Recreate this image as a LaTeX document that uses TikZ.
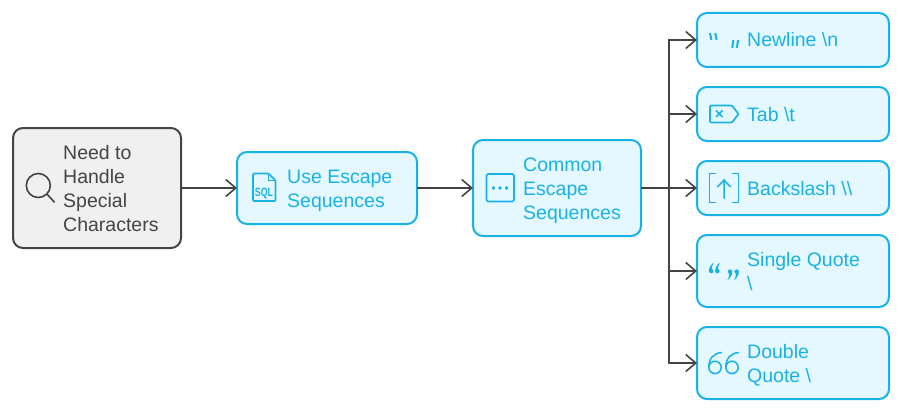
\documentclass[tikz,border=0pt]{standalone}
\usepackage{fontspec}
\setmainfont{Liberation Sans}
\usetikzlibrary{arrows.meta, positioning}
\definecolor{skyline}{HTML}{17B3E6}
\definecolor{skyfill}{HTML}{E5F8FF}
\definecolor{greyline}{HTML}{444444}
\definecolor{greyfill}{HTML}{F0F0F0}
\newcommand{\lblstrut}{\rule[-5pt]{0pt}{24pt}}
\tikzset{
	box/.style={draw=skyline, fill=skyfill, line width=2pt, rounded corners=10pt, outer sep=0pt, inner sep=0pt},
	leaf/.style={box, minimum width=192pt},
	lbl/.style={anchor=west, inner sep=0pt, align=left, text=skyline, font=\fontsize{19.5}{24}\selectfont, execute at begin node=\lblstrut, execute at end node=\lblstrut},
	lines/.style={lbl, yshift=-2.8pt},
	link/.style={draw=greyline, line width=1.6pt, -{Straight Barb[length=10pt, width=17pt, line width=1.6pt]}},
	icon/.style={draw=skyline, line width=1.7pt},
	fine/.style={draw=skyline, line width=1.5pt},
	curlyq/.pic={
		\fill[skyline, scale=.88] (-2.6,0) .. controls (-2.6,-4) and (0,-8) .. (3,-9.4) .. controls (1,-6) and (.6,-4.5) .. (.9,-2.6) .. controls (2,-2.4) and (2.6,-1) .. (2.6,0) arc (0:180:2.6);
	}
}
\begin{document}
\begin{tikzpicture}[x=1pt, y=-1pt]
	\useasboundingbox (0,0) rectangle (902,412);

	\node[box, draw=greyline, fill=greyfill, minimum width=168pt, minimum height=120pt] (root) at (97,188) {};
	\node[box, minimum width=180pt, minimum height=72pt, right=56pt of root] (use) {};
	\node[box, minimum width=168pt, minimum height=96pt, right=56pt of use] (common) {};
	\node[leaf, minimum height=54pt, right=56pt of common] (backslash) {};
	\node[leaf, minimum height=54pt, above=20pt of backslash] (tab) {};
	\node[leaf, minimum height=54pt, above=20pt of tab] (newline) {};
	\node[leaf, minimum height=72pt, below=20pt of backslash] (single) {};
	\node[leaf, minimum height=72pt, below=20pt of single] (double) {};

	\node[lines, text=greyline] (rootlbl) at ([xshift=50pt]root.west) {Need to\\Handle\\Special\\Characters};
	\node[lines] (uselbl) at ([xshift=50pt]use.west) {Use Escape\\Sequences};
	\node[lines] (commonlbl) at ([xshift=50pt]common.west) {Common\\Escape\\Sequences};
	\node[lbl] (newlinelbl) at ([xshift=50pt]newline.west) {Newline \textbackslash n};
	\node[lbl] (tablbl) at ([xshift=50pt]tab.west) {Tab \textbackslash t};
	\node[lbl] (backslashlbl) at ([xshift=50pt]backslash.west) {Backslash \textbackslash\textbackslash};
	\node[lines] (singlelbl) at ([xshift=50pt]single.west) {Single Quote\\\textbackslash};
	\node[lines] (doublelbl) at ([xshift=50pt]double.west) {Double\\Quote \textbackslash};

	\draw[link] (root) -- (use);
	\draw[link] (use) -- (common);
	\coordinate (fork) at ([xshift=28pt]common.east);
	\draw[link] (common) -- (backslash);
	\draw[link] (fork) |- (newline);
	\draw[link] (fork) |- (tab);
	\draw[link] (fork) |- (single);
	\draw[link] (fork) |- (double);

	% magnifier
	\draw[draw=greyline, line width=1.6pt] (38.3,185.5) circle (12pt) (46.7,193.8) -- (54.5,202.3);
	% sql file
	\draw[icon, line join=round, rounded corners=1pt] (268.5,173.5) -- (253,173.5) -- (253,201) -- (275.5,201) -- (275.5,180.5) -- cycle;
	\draw[icon, line width=1.2pt] (268.5,173.5) -- (268.5,180.5) -- (275.5,180.5);
	\node[inner sep=0pt, xscale=.74, text=skyline, font=\fontsize{12}{12}\selectfont\bfseries] (sqltxt) at (264,193) {SQL};
	% dots
	\draw[icon, rounded corners=1.5pt] (486.5,174) rectangle (514,201.5);
	\foreach \x in {493.5,500,506.5} \fill[skyline] (\x,188) circle (1.9pt);
	% newline marks
	\draw[icon, line width=2pt] (710,33) -- (711.4,39.8) (715.2,33) -- (716.6,39.8) (733.4,40) -- (732.2,47.8) (738.2,40) -- (736.8,47.8);
	% tag
	\draw[icon, line join=round, rounded corners=1pt] (710,105.5) -- (732,105.5) -- (738.5,114) -- (732,122.5) -- (710,122.5) -- cycle;
	\draw[fine] (716,110.5) -- (722.5,117) (722.5,110.5) -- (716,117);
	% bracket with arrow
	\draw[icon] (716,173.5) -- (709.5,173.5) -- (709.5,202.5) -- (716,202.5) (732,173.5) -- (738.5,173.5) -- (738.5,202.5) -- (732,202.5);
	\draw[fine] (724,198.5) -- (724,180) (717.5,187) -- (724,180) -- (730.5,187);
	% curly quotes
	\pic at (711.2,271) {curlyq};
	\pic at (717.4,271) {curlyq};
	\pic[rotate=180] at (730,271.7) {curlyq};
	\pic[rotate=180] at (736.6,271.7) {curlyq};
	% double sixes
	\foreach \x in {715,732} {
		\draw[fine] (\x,367.4) circle (6.2pt);
		\draw[fine] (\x-6.2,367.4) .. controls (\x-6.2,358) and (\x-1,353) .. (\x+7,352.5);
	}
\end{tikzpicture}
\end{document}
